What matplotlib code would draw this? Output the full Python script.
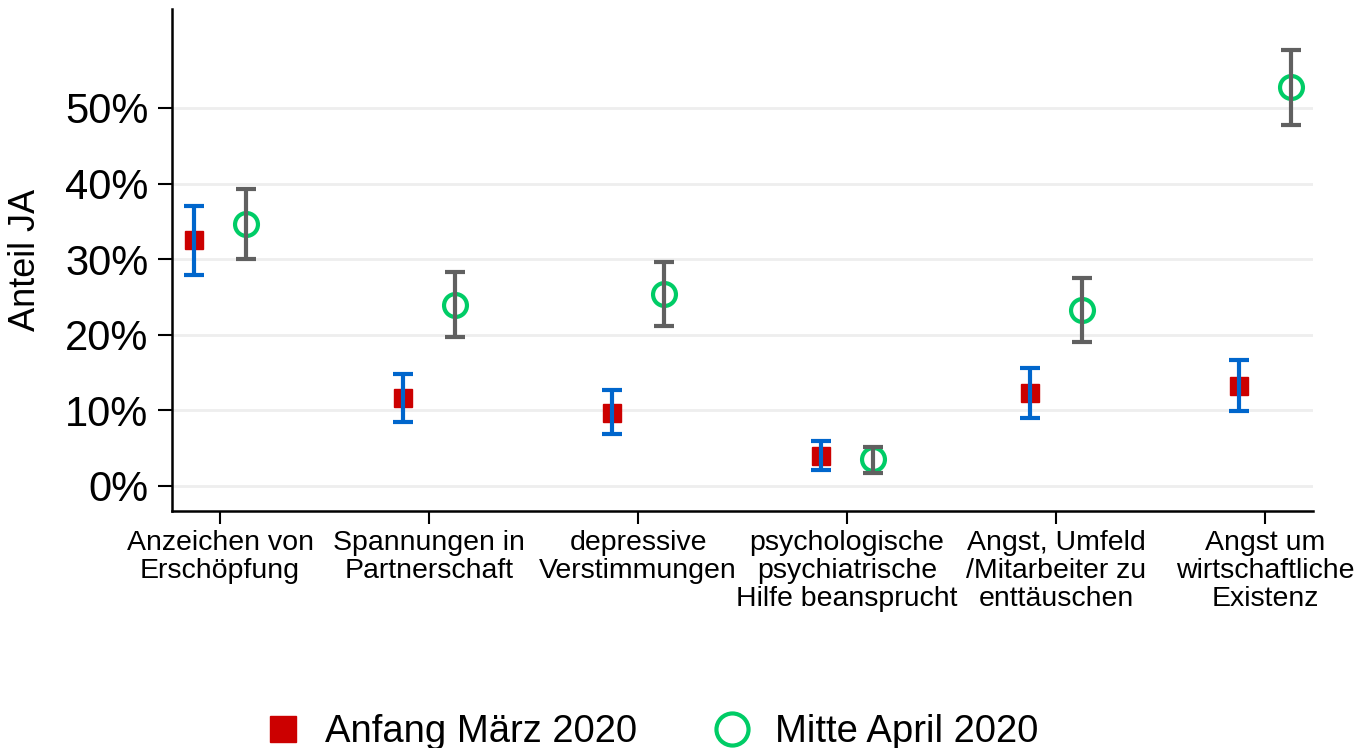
import numpy as np
import matplotlib
matplotlib.use("Agg")
import matplotlib.pyplot as plt
from matplotlib.ticker import PercentFormatter

plt.rcParams['font.family'] = ['Liberation Sans', 'DejaVu Sans']

# categories (x axis)
categories = [
    "Anzeichen von\nErschöpfung",
    "Spannungen in\nPartnerschaft",
    "depressive\nVerstimmungen",
    "psychologische\npsychiatrische\nHilfe beansprucht",
    "Angst, Umfeld\n/Mitarbeiter zu\nenttäuschen",
    "Angst um\nwirtschaftliche\nExistenz",
]

# Anfang März 2020: estimate with lower / upper CI
maerz = [0.325, 0.116, 0.097, 0.040, 0.123, 0.132]
maerz_lo = [0.279, 0.084, 0.069, 0.021, 0.090, 0.099]
maerz_hi = [0.371, 0.148, 0.127, 0.059, 0.156, 0.166]

# Mitte April 2020
april = [0.347, 0.240, 0.254, 0.035, 0.233, 0.528]
april_lo = [0.300, 0.197, 0.212, 0.017, 0.191, 0.478]
april_hi = [0.393, 0.283, 0.296, 0.052, 0.275, 0.577]

series_names = ["Anfang März 2020", "Mitte April 2020"]

red = "#CC0000"
green = "#00CC66"
blue = "#0066CC"
grey = "#606060"

fig = plt.figure(figsize=(13.63, 7.48), dpi=100)
ax = fig.add_axes([0.1262, 0.317, 0.8371, 0.671])

x = np.arange(len(categories))
off = 0.125

# Gitterlinien
ax.set_axisbelow(True)
ax.yaxis.grid(True, color="#EEEEEE", linewidth=2)

m = np.array(maerz)
a = np.array(april)

ax.plot(x - off, m, linestyle="none", marker="s", markersize=13.5,
        color=red, zorder=3, label=series_names[0])
ax.errorbar(x - off, m, yerr=[m - np.array(maerz_lo), np.array(maerz_hi) - m],
            fmt="none", ecolor=blue, elinewidth=3, capsize=7, capthick=3,
            zorder=4)

ax.plot(x + off, a, linestyle="none", marker="o", markersize=16.5,
        markerfacecolor="none", markeredgecolor=green, markeredgewidth=3,
        zorder=3, label=series_names[1])
ax.errorbar(x + off, a, yerr=[a - np.array(april_lo), np.array(april_hi) - a],
            fmt="none", ecolor=grey, elinewidth=3, capsize=7, capthick=3,
            zorder=4)

ax.set_xlim(-0.23, len(categories) - 1 + 0.23)
ax.set_ylim(-0.033, 0.631)
ax.set_yticks(np.arange(0, 0.51, 0.1))
ax.yaxis.set_major_formatter(PercentFormatter(1.0, decimals=0))
ax.set_xticks(x)
ax.set_xticklabels(categories, fontsize=20.5, linespacing=1.1)

ax.tick_params(axis="y", labelsize=30, length=10, width=1.5, pad=7)
ax.tick_params(axis="x", length=9.5, width=1.5, pad=4)

for s in ["top", "right"]:
    ax.spines[s].set_visible(False)
for s in ["left", "bottom"]:
    ax.spines[s].set_linewidth(1.8)

ax.set_ylabel("Anteil JA", fontsize=26)
ax.yaxis.set_label_coords(-0.113, 0.5)

handles, labels = ax.get_legend_handles_labels()
fig.legend(handles, labels, loc="center", bbox_to_anchor=(0.4775, 0.021),
           ncol=2, frameon=False, fontsize=27.5, handlelength=1.0,
           handletextpad=0.6, columnspacing=2.0, markerscale=1.4)

fig.savefig("out.png", dpi=100)
